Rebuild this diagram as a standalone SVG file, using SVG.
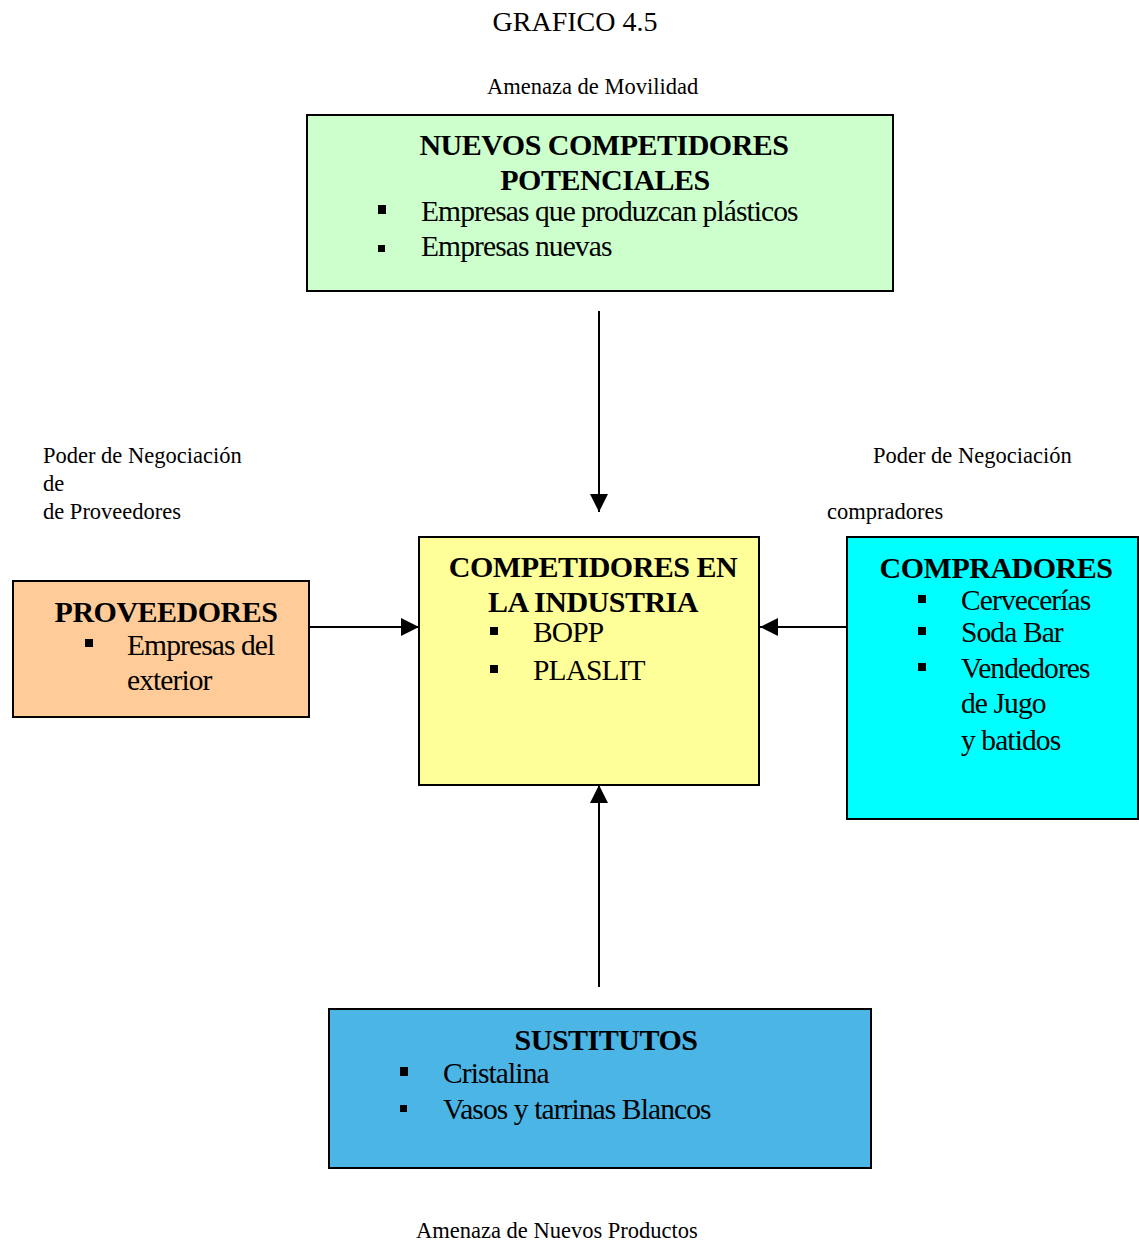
<svg xmlns="http://www.w3.org/2000/svg" width="1139" height="1243" viewBox="0 0 1139 1243">
  <style>
    .box { stroke: #000; stroke-width: 2; }
    .t { font-family: "Liberation Serif", "Times New Roman", serif; fill: #000; }
    .head { font-size: 30px; font-weight: bold; text-anchor: middle; letter-spacing: -0.5px; }
    .item { font-size: 29.5px; letter-spacing: -0.9px; }
    .lbl { font-size: 22.5px; }
    .title { font-size: 28px; }
    .conn { stroke: #000; stroke-width: 2; fill: none; }
  </style>
  <defs>
    <marker id="arrow" markerUnits="userSpaceOnUse" markerWidth="18" markerHeight="18" viewBox="0 0 18 18" refX="18" refY="9" orient="auto">
      <path d="M0,0 L18,9 L0,18 z" fill="#000"/>
    </marker>
  </defs>

  <rect width="1139" height="1243" fill="#fff"/>

  <!-- free labels -->
  <text class="t title" x="575" y="31" text-anchor="middle">GRAFICO 4.5</text>
  <text class="t lbl" x="487" y="94">Amenaza de Movilidad</text>
  <text class="t lbl" x="43" y="463">Poder de Negociación</text>
  <text class="t lbl" x="43" y="491">de</text>
  <text class="t lbl" x="43" y="519">de Proveedores</text>
  <text class="t lbl" x="873" y="463">Poder de Negociación</text>
  <text class="t lbl" x="827" y="519">compradores</text>
  <text class="t lbl" x="416" y="1238">Amenaza de Nuevos Productos</text>

  <!-- connectors -->
  <g id="connectors">
    <line class="conn" x1="599" y1="311" x2="599" y2="512" marker-end="url(#arrow)"/>
    <line class="conn" x1="307" y1="627" x2="419" y2="627" marker-end="url(#arrow)"/>
    <line class="conn" x1="847" y1="627" x2="760" y2="627" marker-end="url(#arrow)"/>
    <line class="conn" x1="599" y1="987" x2="599" y2="785" marker-end="url(#arrow)"/>
  </g>

  <!-- new entrants -->
  <g id="nuevos">
    <rect class="box" x="307" y="115" width="586" height="176" fill="#CCFFCC"/>
    <text class="t head" x="604" y="155">NUEVOS COMPETIDORES</text>
    <text class="t head" x="605" y="190">POTENCIALES</text>
    <rect x="378" y="205" width="8" height="9" fill="#000"/>
    <text class="t item" x="421" y="221">Empresas que produzcan plásticos</text>
    <rect x="378" y="245" width="7" height="7" fill="#000"/>
    <text class="t item" x="421" y="256">Empresas nuevas</text>
  </g>

  <!-- suppliers -->
  <g id="proveedores">
    <rect class="box" x="13" y="581" width="296" height="136" fill="#FFCC99"/>
    <text class="t head" x="166" y="622">PROVEEDORES</text>
    <rect x="85" y="639" width="8" height="8" fill="#000"/>
    <text class="t item" x="127" y="655">Empresas del</text>
    <text class="t item" x="127" y="690">exterior</text>
  </g>

  <!-- industry rivals -->
  <g id="industria">
    <rect class="box" x="419" y="537" width="340" height="248" fill="#FFFF99"/>
    <text class="t head" x="593" y="577">COMPETIDORES EN</text>
    <text class="t head" x="593" y="612">LA INDUSTRIA</text>
    <rect x="490" y="627" width="8" height="8" fill="#000"/>
    <text class="t item" x="533" y="642">BOPP</text>
    <rect x="490" y="665" width="8" height="8" fill="#000"/>
    <text class="t item" x="533" y="680">PLASLIT</text>
  </g>

  <!-- buyers -->
  <g id="compradores">
    <rect class="box" x="847" y="537" width="291" height="282" fill="#00FFFF"/>
    <text class="t head" x="996" y="578">COMPRADORES</text>
    <rect x="918" y="595" width="8" height="8" fill="#000"/>
    <text class="t item" x="961" y="610">Cervecerías</text>
    <rect x="918" y="627" width="8" height="8" fill="#000"/>
    <text class="t item" x="961" y="642">Soda Bar</text>
    <rect x="918" y="663" width="8" height="8" fill="#000"/>
    <text class="t item" x="961" y="678">Vendedores</text>
    <text class="t item" x="961" y="713">de Jugo</text>
    <text class="t item" x="961" y="750">y batidos</text>
  </g>

  <!-- substitutes -->
  <g id="sustitutos">
    <rect class="box" x="329" y="1009" width="542" height="159" fill="#4BB5E6"/>
    <text class="t head" x="606" y="1050">SUSTITUTOS</text>
    <rect x="400" y="1067" width="8" height="9" fill="#000"/>
    <text class="t item" x="443" y="1083">Cristalina</text>
    <rect x="400" y="1105" width="7" height="7" fill="#000"/>
    <text class="t item" x="443" y="1119">Vasos y tarrinas Blancos</text>
  </g>
</svg>
